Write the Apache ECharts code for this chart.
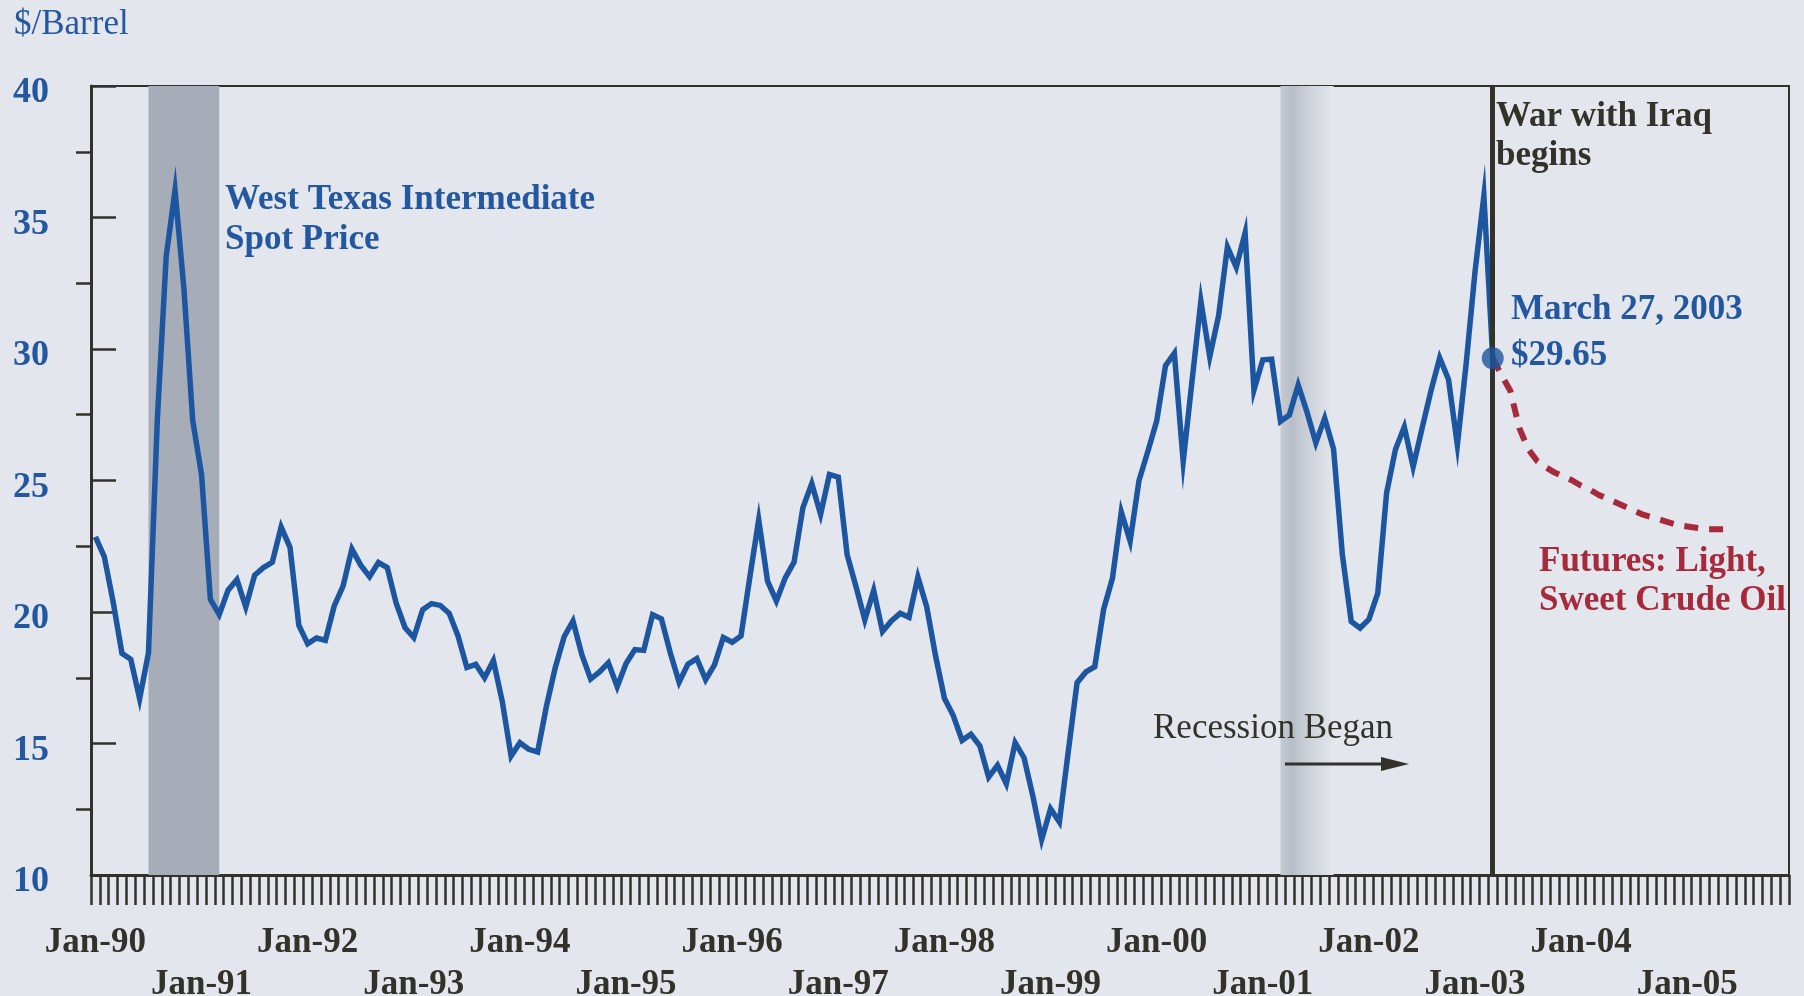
<!DOCTYPE html>
<html>
<head>
<meta charset="utf-8">
<script src="https://cdn.jsdelivr.net/npm/echarts@6/dist/echarts.min.js"></script>
<style>
  html, body { margin: 0; padding: 0; background: #e3e6ec; }
  #chart { width: 1804px; height: 996px; }
</style>
</head>
<body>
<div id="chart"></div>
<script>
// ---------------- DATA ----------------
const startYear = 1990;
const endYear = 2005;
const monthNames = ['Jan','Feb','Mar','Apr','May','Jun','Jul','Aug','Sep','Oct','Nov','Dec'];

// West Texas Intermediate spot price, monthly, Jan-90 .. Mar-03 ($/barrel)
const wtiSpot = [
  22.86, 22.11, 20.39, 18.43, 18.20, 16.70, 18.45, 27.31, 33.51, 36.04, 32.33, 27.28, // 1990
  25.23, 20.48, 19.90, 20.83, 21.23, 20.19, 21.40, 21.69, 21.89, 23.23, 22.46, 19.50, // 1991
  18.79, 19.01, 18.92, 20.23, 20.98, 22.39, 21.78, 21.34, 21.88, 21.69, 20.34, 19.41, // 1992
  19.03, 20.09, 20.32, 20.25, 19.95, 19.09, 17.89, 18.01, 17.50, 18.15, 16.61, 14.52, // 1993
  15.03, 14.78, 14.68, 16.42, 17.89, 19.06, 19.66, 18.38, 17.45, 17.72, 18.07, 17.16, // 1994
  18.04, 18.57, 18.54, 19.90, 19.74, 18.45, 17.33, 18.02, 18.23, 17.43, 17.99, 19.03, // 1995
  18.85, 19.09, 21.33, 23.50, 21.17, 20.42, 21.30, 21.90, 23.97, 24.88, 23.71, 25.23, // 1996
  25.13, 22.18, 20.97, 19.70, 20.82, 19.26, 19.66, 19.95, 19.80, 21.33, 20.19, 18.33, // 1997
  16.72, 16.06, 15.12, 15.35, 14.91, 13.72, 14.17, 13.47, 15.03, 14.46, 13.00, 11.35, // 1998
  12.52, 12.01, 14.68, 17.31, 17.72, 17.92, 20.10, 21.28, 23.80, 22.69, 25.00, 26.10, // 1999
  27.26, 29.37, 29.84, 25.72, 28.79, 31.82, 29.70, 31.26, 33.88, 33.11, 34.42, 28.44, // 2000
  29.59, 29.61, 27.25, 27.49, 28.63, 27.60, 26.43, 27.37, 26.20, 22.17, 19.64, 19.39, // 2001
  19.72, 20.72, 24.53, 26.18, 27.04, 25.52, 26.97, 28.39, 29.66, 28.84, 26.35, 29.46, // 2002
  32.95, 35.83, 29.65                                                                 // 2003
];

// Futures: light, sweet crude oil, monthly from Mar-03
const futuresStart = 'Mar-03';
const futuresValues = [
  29.65, 29.0, 28.4, 27.0, 26.2, 25.75, 25.5, 25.3, 25.15, 25.0,
  24.8, 24.65, 24.45, 24.3, 24.15, 24.0, 23.85, 23.7, 23.6, 23.5,
  23.4, 23.3, 23.25, 23.2, 23.15, 23.15, 23.15, 23.15
];

// Spot point annotation
const spotDate = 'Mar-03';
const spotValue = 29.65;

// Recession bands
const recessionBands = [['Jul-90', 'Mar-91'], ['Mar-01', 'Sep-01']];
const warDate = 'Mar-03';

// Axis ticks
const yMin = 10, yMax = 40, yStep = 5;
const yMinorTicks = [12.5, 17.5, 22.5, 27.5, 32.5, 37.5];

// ---------------- BUILD ----------------
const categories = [];
for (let y = startYear; y <= endYear; y++) {
  const yy = String(y).slice(2);
  monthNames.forEach(m => categories.push(m + '-' + yy));
}
const futIdx = categories.indexOf(futuresStart);
const futuresData = categories.map((c, i) =>
  (i >= futIdx && i < futIdx + futuresValues.length) ? futuresValues[i - futIdx] : null);

const FONT = '"Liberation Serif", "Times New Roman", serif';
const DARK = '#33322a';
const BLUE = '#2357a0';
const LINE_BLUE = '#1c55a0';
const RED = '#a62a3b';

const chart = echarts.init(document.getElementById('chart'), null, { renderer: 'canvas' });

function txt(x, y, text, color, weight) {
  return {
    type: 'text', left: x, top: y - 14, z: 100,
    style: { text: text, fill: color, font: (weight || 'bold') + ' 35px ' + FONT,
             textVerticalAlign: 'top' },
    silent: true
  };
}

const option = {
  backgroundColor: '#e3e6ec',
  animation: false,
  grid: { left: 91, top: 86, right: 15, bottom: 121, show: true,
          outerBoundsMode: 'none', containLabel: false,
          borderColor: DARK, borderWidth: 2, backgroundColor: 'transparent' },
  xAxis: {
    type: 'category', data: categories, boundaryGap: true,
    axisLine: { show: true, lineStyle: { color: DARK, width: 3 } },
    axisTick: { show: true, interval: 0, length: 30, lineStyle: { color: DARK, width: 2.5 } },
    axisLabel: {
      interval: (i) => i % 12 === 0,
      formatter: (v, i) => (Math.floor(i / 12) % 2 === 0 ? v : '\n' + v),
      color: DARK, fontFamily: FONT, fontWeight: 'bold', fontSize: 35,
      lineHeight: 42, margin: 47
    },
    splitLine: { show: false }
  },
  yAxis: [
    {
      type: 'value', min: yMin, max: yMax, interval: yStep,
      axisLine: { show: true, lineStyle: { color: DARK, width: 3 } },
      axisTick: { show: true, inside: true, length: 25, lineStyle: { color: DARK, width: 2.5 } },
      axisLabel: { color: BLUE, fontFamily: FONT, fontWeight: 'bold', fontSize: 36, margin: 42,
                   verticalAlign: 'top', lineHeight: 14 },
      splitLine: { show: false }
    },
    {
      type: 'value', min: yMin, max: yMax, interval: yStep, position: 'left',
      axisLine: { show: false },
      axisTick: { show: true, inside: false, length: 15, customValues: yMinorTicks,
                  lineStyle: { color: DARK, width: 2.5 } },
      axisLabel: { show: false },
      splitLine: { show: false }
    }
  ],
  series: [
    {
      name: 'West Texas Intermediate Spot Price', type: 'line',
      data: wtiSpot, symbol: 'none', z: 3,
      lineStyle: { color: LINE_BLUE, width: 5.5, join: 'miter', miterLimit: 40 },
      markArea: {
        silent: true,
        data: [
          [{ xAxis: recessionBands[0][0], itemStyle: { color: '#a6adb8' } }, { xAxis: recessionBands[0][1] }],
          [{ xAxis: recessionBands[1][0], itemStyle: { color: {
              type: 'linear', x: 0, y: 0, x2: 1, y2: 0,
              colorStops: [
                { offset: 0, color: '#c6cbd3' },
                { offset: 0.22, color: '#b8bec8' },
                { offset: 0.55, color: '#ced3da' },
                { offset: 1, color: '#e3e6eb' }
              ] } } },
           { xAxis: recessionBands[1][1] }]
        ]
      },
      markLine: {
        silent: true, symbol: ['none', 'none'], label: { show: false },
        lineStyle: { color: DARK, width: 5, type: 'solid' },
        data: [{ xAxis: warDate }]
      }
    },
    {
      name: 'Futures: Light, Sweet Crude Oil', type: 'line',
      data: futuresData, symbol: 'none', z: 2, connectNulls: false,
      lineStyle: { color: RED, width: 6, type: [14, 11] }
    },
    {
      name: 'Spot', type: 'scatter', z: 5,
      data: [[spotDate, spotValue]], symbolSize: 22,
      itemStyle: { color: LINE_BLUE }
    }
  ],
  graphic: [
    txt(14, 21, '$/Barrel', BLUE, 'normal'),
    txt(225, 196, 'West Texas Intermediate', BLUE),
    txt(225, 236, 'Spot Price', BLUE),
    txt(1496, 113, 'War with Iraq', DARK),
    txt(1496, 152, 'begins', DARK),
    txt(1511, 306, 'March 27, 2003', BLUE),
    txt(1511, 352, '$29.65', BLUE),
    txt(1539, 558, 'Futures: Light,', RED),
    txt(1539, 597, 'Sweet Crude Oil', RED),
    txt(1153, 725, 'Recession Began', DARK, 'normal'),
    { type: 'line', silent: true, z: 100,
      shape: { x1: 1285, y1: 764, x2: 1388, y2: 764 },
      style: { stroke: DARK, lineWidth: 3 } },
    { type: 'polygon', silent: true, z: 100,
      shape: { points: [[1381, 757], [1409, 764], [1381, 771]] },
      style: { fill: DARK } }
  ]
};
chart.setOption(option);
</script>
</body>
</html>
